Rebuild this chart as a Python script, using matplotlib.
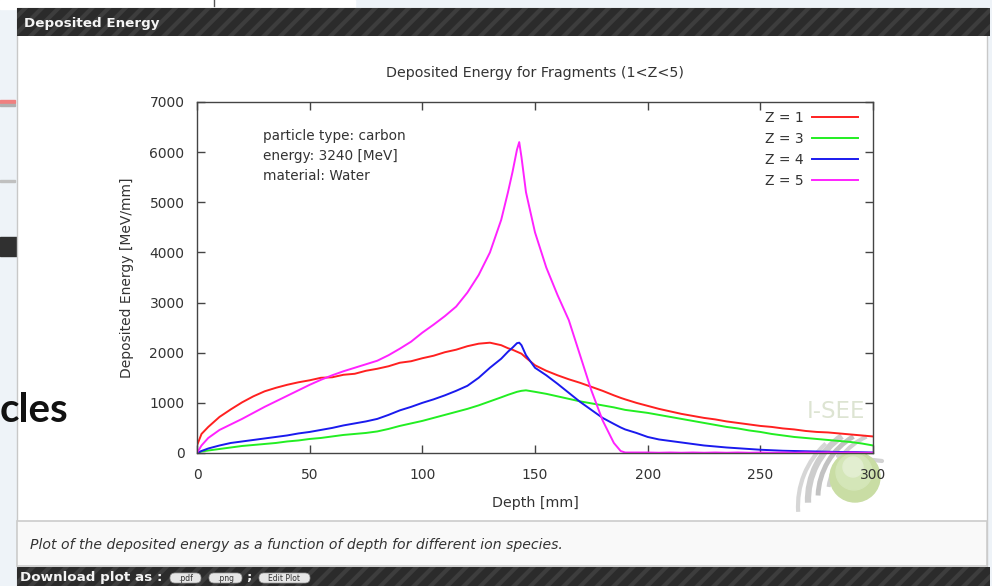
import matplotlib
matplotlib.use("Agg")
import matplotlib.pyplot as plt
from matplotlib.patches import Rectangle, FancyBboxPatch, Circle, Arc

# ---------------- data ----------------
depth = [0, 2, 5, 10, 15, 20, 25, 30, 35, 40, 45, 50, 55, 60, 65, 70, 75, 80,
         85, 90, 95, 100, 105, 110, 115, 120, 125, 130, 135, 138, 140, 142,
         143, 144, 146, 150, 155, 160, 165, 170, 175, 180, 185, 188, 190, 195,
         200, 205, 210, 215, 220, 225, 230, 235, 240, 245, 250, 255, 260, 265,
         270, 275, 280, 285, 290, 295, 300]

z1 = [150, 380, 520, 720, 870, 1010, 1130, 1230, 1300, 1360, 1410, 1450, 1500,
      1510, 1560, 1580, 1640, 1680, 1730, 1800, 1830, 1890, 1940, 2010, 2060,
      2130, 2180, 2200, 2150, 2090, 2060, 2020, 2000, 1980, 1900, 1750, 1640,
      1550, 1470, 1400, 1320, 1240, 1150, 1100, 1070, 1000, 940, 880, 830, 780,
      740, 700, 670, 630, 600, 570, 540, 520, 490, 470, 440, 420, 410, 390,
      370, 350, 330]

z3 = [0, 30, 50, 80, 110, 140, 160, 180, 200, 230, 250, 280, 300, 330, 360,
      380, 400, 430, 480, 540, 590, 640, 700, 760, 820, 880, 950, 1030, 1110,
      1160, 1190, 1220, 1230, 1240, 1250, 1220, 1180, 1130, 1080, 1030, 990,
      950, 910, 880, 860, 830, 800, 760, 720, 680, 640, 600, 560, 520, 490,
      450, 420, 380, 350, 320, 300, 280, 260, 240, 220, 190, 150]

z4 = [0, 40, 90, 150, 200, 230, 260, 290, 320, 350, 390, 420, 460, 500, 550,
      590, 630, 680, 760, 850, 920, 1000, 1070, 1150, 1240, 1340, 1500, 1700,
      1880, 2020, 2100, 2190, 2200, 2150, 1950, 1700, 1550, 1380, 1200, 1020,
      860, 700, 580, 510, 470, 400, 320, 270, 240, 210, 180, 150, 130, 110,
      95, 80, 65, 55, 45, 40, 35, 30, 25, 20, 20, 15, 10]

z5 = [0, 150, 300, 460, 570, 680, 800, 920, 1030, 1140, 1250, 1360, 1460,
      1550, 1630, 1700, 1770, 1840, 1950, 2080, 2220, 2400, 2560, 2730, 2920,
      3200, 3550, 4000, 4650, 5200, 5600, 6050, 6200, 5900, 5200, 4400, 3700,
      3150, 2650, 1950, 1250, 650, 200, 40, 10, 10, 10, 5, 10, 5, 10, 5, 10,
      5, 10, 5, 10, 5, 10, 5, 10, 5, 10, 5, 10, 5, 5]

series_labels = ["Z = 1", "Z = 3", "Z = 4", "Z = 5"]
series_colors = ["#ff2020", "#22ee22", "#1a1aee", "#ff22ff"]
x_ticks = [0, 50, 100, 150, 200, 250, 300]
y_ticks = [0, 1000, 2000, 3000, 4000, 5000, 6000, 7000]

# ---------------- figure ----------------
W, H = 992, 586
fig = plt.figure(figsize=(W / 100, H / 100), dpi=100)
plt.rcParams['hatch.linewidth'] = 3.0

bg = fig.add_axes([0, 0, 1, 1], zorder=0)
bg.set_xlim(0, W)
bg.set_ylim(H, 0)
bg.axis("off")

# page background pieces
bg.add_patch(Rectangle((0, 0), W, H, color="#eef3f8", zorder=0))
bg.add_patch(Rectangle((0, 0), 355, 9, color="#ffffff", zorder=0.5))
bg.plot([214, 214], [0, 6], color="#555555", lw=1, zorder=0.6)
bg.add_patch(Rectangle((0, 100), 15, 3, color="#f08080", zorder=0.5))
bg.add_patch(Rectangle((0, 104), 15, 2, color="#b0b0b0", zorder=0.5))
bg.add_patch(Rectangle((0, 180), 15, 2, color="#c0c0c0", zorder=0.5))
bg.add_patch(Rectangle((0, 237), 17, 19, color="#303030", zorder=0.5))
bg.text(0, 411, "cles", fontsize=29, fontweight="bold", family="Lato",
        color="#111111", va="center", ha="left", zorder=1)

# main panel
bg.add_patch(Rectangle((17, 8), 970, H - 8, facecolor="#ffffff",
                       edgecolor="#c8c8c8", lw=1, zorder=0.7))
# header bar
bg.add_patch(Rectangle((17, 8), 973, 28, facecolor="#2b2b2b",
                       edgecolor="#3d3d3d", hatch="//", lw=0, zorder=0.8))
bg.text(24, 23, "Deposited Energy", fontsize=9.7, fontweight="bold",
        color="#f4f4f4", va="center", ha="left", zorder=1)
# caption panel
bg.add_patch(Rectangle((17, 521), 970, 45, facecolor="#f9f9f9",
                       edgecolor="#cccccc", lw=1.2, zorder=0.8))
bg.text(30, 545, "Plot of the deposited energy as a function of depth for different ion species.",
        fontsize=10.1, style="italic", color="#333333", va="center", ha="left", zorder=1)
# bottom bar
bg.add_patch(Rectangle((17, 567), 973, 19, facecolor="#2b2b2b",
                       edgecolor="#3d3d3d", hatch="//", lw=0, zorder=0.8))
bg.text(20, 578, "Download plot as :", fontsize=9.7, fontweight="bold",
        color="#f4f4f4", va="center", ha="left", zorder=1)
for (bx, bw, lab) in [(170, 31, ".pdf"), (209, 33, ".png"), (259, 51, "Edit Plot")]:
    bg.add_patch(FancyBboxPatch((bx, 573), bw, 10,
                                boxstyle="round,pad=0,rounding_size=5",
                                facecolor="#e6e6e6", edgecolor="#999999", lw=0.5, zorder=1))
    bg.text(bx + bw / 2, 578.5, lab, fontsize=5.5, color="#333333",
            va="center", ha="center", zorder=1.1)
bg.text(249, 578, ";", fontsize=9.7, fontweight="bold", color="#f4f4f4",
        va="center", ha="center", zorder=1)

# watermark logo (swooshes + sphere)
for (cx, cy, r, a1, a2, lw, col) in [
        (885, 500, 77, 178, 236, 4.5, "#cdcdcd"),
        (889, 498, 71, 182, 240, 3.5, "#c2c2c2"),
        (893, 496, 65, 188, 246, 3, "#d0d0d0"),
        (882, 506, 84, 176, 228, 3, "#d6d6d6")]:
    bg.add_patch(Arc((cx, cy), 2 * r, 2 * r, angle=0, theta1=a1, theta2=a2,
                     color=col, lw=lw, zorder=0.9))
bg.plot([838, 882], [456, 461], color="#d2d2d2", lw=3, zorder=0.9,
        solid_capstyle="round")
bg.add_patch(Circle((855, 477), 25, color="#c9dda4", zorder=0.91))
bg.add_patch(Circle((854, 472), 18, color="#d4e6b8", zorder=0.92))
bg.add_patch(Circle((853, 467), 10, color="#e2eed0", zorder=0.93))
bg.text(807, 411, "I-SEE", fontsize=16.5, color="#dde4d2", va="center",
        ha="left", zorder=0.95)

# ---------------- plot axes ----------------
L, R, T, B = 197, 873, 102, 453
ax = fig.add_axes([L / W, 1 - B / H, (R - L) / W, (B - T) / H], zorder=2)
ax.set_facecolor("none")
for ys, lab, col in zip([z1, z3, z4, z5], series_labels, series_colors):
    ax.plot(depth, ys, color=col, lw=1.4, label=lab)
ax.set_xlim(0, 300)
ax.set_ylim(0, 7000)
ax.set_xticks(x_ticks)
ax.set_yticks(y_ticks)
ax.tick_params(direction="in", length=6, width=1, color="#444444",
               labelsize=10, labelcolor="#333333", top=True, right=True)
ax.tick_params(axis="x", pad=11)
ax.tick_params(axis="y", pad=9)
for s in ax.spines.values():
    s.set_color("#444444")
    s.set_linewidth(1)
ax.set_xlabel("Depth [mm]", fontsize=10.3, color="#333333", labelpad=10)
ax.set_ylabel("Deposited Energy [MeV/mm]", fontsize=10, color="#333333", labelpad=11)
ax.set_title("Deposited Energy for Fragments (1<Z<5)", fontsize=10.3,
             color="#333333", pad=18)
ax.text(0.098, 0.924, "particle type: carbon\nenergy: 3240 [MeV]\nmaterial: Water",
        transform=ax.transAxes, fontsize=9.8, color="#333333",
        va="top", ha="left", linespacing=1.57)
leg = ax.legend(loc="upper right", bbox_to_anchor=(0.978, 0.974), frameon=False,
                markerfirst=False, fontsize=10, handlelength=3.3,
                labelspacing=0.5, handletextpad=0.65, borderaxespad=0,
                borderpad=0)
for t in leg.get_texts():
    t.set_color("#333333")

fig.savefig("out.png", dpi=100)
